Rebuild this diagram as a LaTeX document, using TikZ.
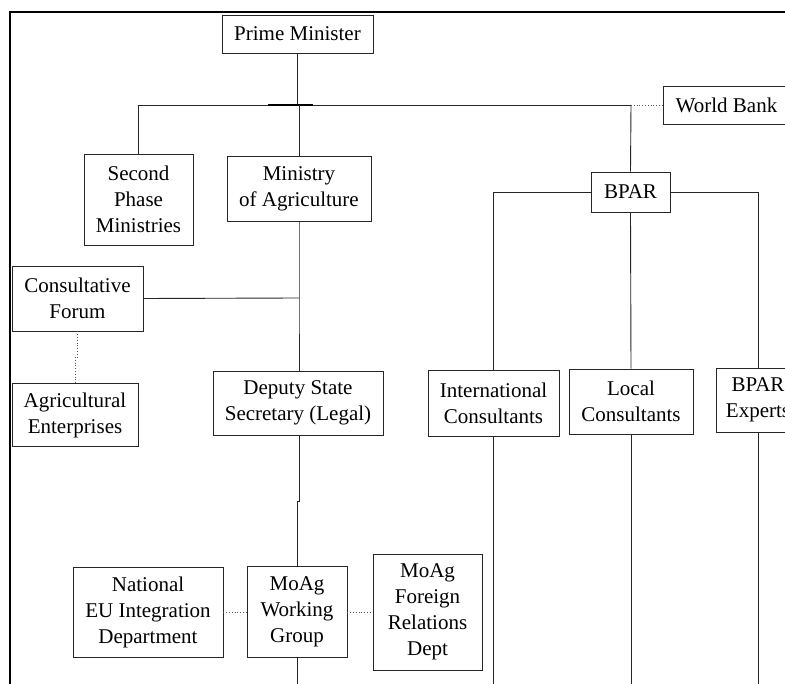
\documentclass[tikz,border=0pt]{standalone}
\usepackage{fontspec}
\setmainfont{Liberation Serif}
\begin{document}
\begin{tikzpicture}[x=1pt,y=-1pt,
  box/.style={draw=black!85, line width=0.9pt, rectangle, inner sep=0pt, align=center,
              font=\fontsize{21}{26}\selectfont},
  link/.style={line width=0.9pt, black!85},
  dots/.style={dotted, line width=0.8pt, black!65},
  frame/.style={line width=2pt}]
\useasboundingbox (0,0) rectangle (785,684);
\clip (0,0) rectangle (785,684);

% outer frame (left and top edges)
\draw[frame] (10,690) -- (10,12) -- (790,12);

% boxes
\node[box, minimum width=151pt, minimum height=38pt] (pm)  at (297.5,34)  {Prime Minister};
\node[box, minimum width=127pt, minimum height=38pt] (wb)  at (726.5,105) {World Bank};
\node[box, minimum width=109pt, minimum height=91pt] (spm) at (138.5,199.5) {Second\\Phase\\Ministries};
\node[box, minimum width=144pt, minimum height=65pt] (moa) at (299,188.5) {Ministry\\of Agriculture};
\node[box, minimum width=79pt,  minimum height=40pt] (bpar) at (630.5,192) {BPAR};
\node[box, minimum width=131pt, minimum height=65pt] (cf)  at (77.5,298.5) {Consultative\\Forum};
\node[box, minimum width=126pt, minimum height=63pt] (ae)  at (75,415) {Agricultural\\Enterprises};
\node[box, minimum width=170pt, minimum height=64pt] (dss) at (298,403) {Deputy State\\Secretary (Legal)};
\node[box, minimum width=131pt, minimum height=66pt] (ic)  at (493.5,403) {International\\Consultants};
\node[box, minimum width=124pt, minimum height=65pt] (lc)  at (631,401.5) {Local\\Consultants};
\node[box, minimum width=84pt,  minimum height=64pt] (be)  at (758,400) {BPAR\\Experts};
\node[box, minimum width=150pt, minimum height=90pt] (neu) at (148,612) {National\\EU Integration\\Department};
\node[box, minimum width=100pt, minimum height=91pt] (mwg) at (297,612) {MoAg\\Working\\Group};
\node[box, minimum width=109pt, minimum height=116pt] (mfr) at (427.5,612) {MoAg\\Foreign\\Relations\\Dept};

% junction points
\coordinate (busL) at (139,105);
\coordinate (busR) at (631,105);
\coordinate (j1) at (299,298);
\coordinate (floor) at (0,690);

% top level bus
\draw[link] (pm.south) -- (pm.south |- busL);
\draw[link] (busL) -- (busR);
\draw[line width=1.6pt] (pm.south |- busL) ++(-30,0) -- ++(45,0);
\draw[link] (spm.north |- busL) -- (spm.north);
\draw[link] (moa.north |- busL) -- (moa.north);
\draw[link] (busR) -- (bpar.north);
\draw[dots] (busR) -- (wb.west);

% BPAR branch
\draw[link] (bpar.west) -| (ic.north);
\draw[link] (bpar.east) -| (be.north);
\draw[link] (bpar.south) -- (lc.north);
\draw[link] (ic.south) -- (ic.south |- floor);
\draw[link] (lc.south) -- (lc.south |- floor);
\draw[link] (be.south) -- (be.south |- floor);

% Ministry of Agriculture branch
\draw[link] (moa.south) -- (j1) -- (j1 |- dss.north);
\draw[link] (cf.east) -- (j1);
\draw[dots] (cf.south) -- ++(0,26) -| (ae.north);
\draw[link] (dss.south -| j1) -- ++(0,66) -- ++(-2,0) -- (mwg.north);
\draw[link] (mwg.south) -- (mwg.south |- floor);
\draw[dots] (neu.east) -- (mwg.west);
\draw[dots] (mwg.east) -- (mfr.west);
\end{tikzpicture}
\end{document}
